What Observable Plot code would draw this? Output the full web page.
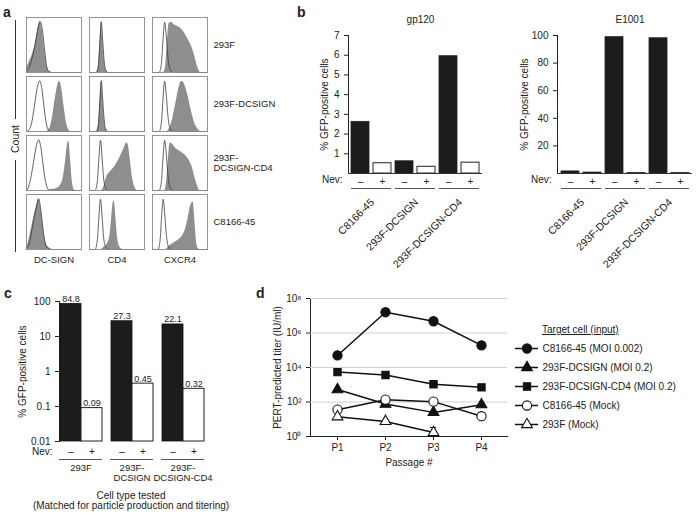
<!DOCTYPE html>
<html><head><meta charset="utf-8">
<script src="https://cdn.jsdelivr.net/npm/d3@7"></script>
<script src="https://cdn.jsdelivr.net/npm/@observablehq/plot@0.6"></script>
<style>
body{margin:0;background:#fff;font-family:"Liberation Sans",Arial,Helvetica,sans-serif;color:#222;}
#root{position:relative;width:700px;height:515px;overflow:hidden;background:#fff;}
.plab{position:absolute;font-weight:bold;font-size:14px;line-height:14px;}
.cap{position:absolute;font-size:10px;line-height:10px;text-align:center;}
</style></head><body><div id="root"></div>
<script>
// ================= DATA =================
// Panel a: flow histograms (x = relative fluorescence 0..1, y = relative count 0..1)
const cellLines = ["293F", "293F-DCSIGN", "293F-DCSIGN-CD4", "C8166-45"];
const cellLineLabels = ["293F", "293F-DCSIGN", "293F-\nDCSIGN-CD4", "C8166-45"];
const stainMarkers = ["DC-SIGN", "CD4", "CXCR4"];

const hist293F = [
  {marker: "DC-SIGN",
   filled: [[0,0.08],[0.05,0.2],[0.1,0.32],[0.15,0.5],[0.2,0.78],[0.25,0.97],[0.29,0.78],[0.33,0.42],[0.37,0.13],[0.41,0.03],[0.46,0],[1,0]],
   open:   [[0,0.02],[0.06,0.12],[0.12,0.35],[0.17,0.6],[0.21,0.85],[0.25,0.96],[0.29,0.8],[0.33,0.42],[0.37,0.1],[0.42,0.01],[0.47,0],[1,0]]},
  {marker: "CD4",
   filled: [[0,0],[0.12,0],[0.16,0.12],[0.19,0.55],[0.215,0.95],[0.24,0.65],[0.27,0.22],[0.3,0.05],[0.34,0],[1,0]],
   open:   [[0,0],[0.13,0],[0.16,0.1],[0.19,0.6],[0.215,0.96],[0.24,0.6],[0.27,0.18],[0.3,0.03],[0.34,0],[1,0]]},
  {marker: "CXCR4",
   filled: [[0,0],[0.2,0],[0.24,0.12],[0.27,0.55],[0.3,0.92],[0.34,0.95],[0.4,0.9],[0.48,0.86],[0.56,0.78],[0.64,0.64],[0.7,0.52],[0.76,0.34],[0.81,0.14],[0.85,0.03],[0.88,0],[1,0]],
   open:   [[0,0],[0.12,0],[0.16,0.15],[0.19,0.6],[0.22,0.95],[0.25,0.7],[0.28,0.3],[0.31,0.08],[0.35,0.01],[0.4,0],[1,0]]}
];
const hist293FDCSIGN = [
  {marker: "DC-SIGN",
   filled: [[0,0],[0.36,0],[0.42,0.05],[0.47,0.25],[0.52,0.6],[0.57,0.88],[0.6,0.95],[0.64,0.82],[0.68,0.5],[0.72,0.2],[0.76,0.05],[0.8,0],[1,0]],
   open:   [[0,0],[0.04,0.02],[0.09,0.15],[0.14,0.45],[0.19,0.8],[0.24,0.96],[0.28,0.8],[0.32,0.45],[0.36,0.15],[0.4,0.03],[0.45,0],[1,0]]},
  {marker: "CD4",
   filled: [[0,0],[0.12,0],[0.16,0.12],[0.19,0.55],[0.215,0.95],[0.24,0.65],[0.27,0.22],[0.3,0.05],[0.34,0],[1,0]],
   open:   [[0,0],[0.13,0],[0.16,0.1],[0.19,0.6],[0.215,0.96],[0.24,0.6],[0.27,0.18],[0.3,0.03],[0.34,0],[1,0]]},
  {marker: "CXCR4",
   filled: [[0,0],[0.26,0],[0.32,0.08],[0.38,0.3],[0.44,0.62],[0.49,0.86],[0.53,0.95],[0.58,0.9],[0.64,0.7],[0.7,0.42],[0.76,0.18],[0.82,0.05],[0.88,0],[1,0]],
   open:   [[0,0],[0.12,0],[0.16,0.15],[0.19,0.6],[0.22,0.95],[0.25,0.7],[0.28,0.3],[0.31,0.08],[0.35,0.01],[0.4,0],[1,0]]}
];
const hist293FDCSIGNCD4 = [
  {marker: "DC-SIGN",
   filled: [[0,0],[0.36,0],[0.45,0.02],[0.55,0.04],[0.62,0.1],[0.67,0.25],[0.71,0.55],[0.75,0.9],[0.77,0.93],[0.8,0.6],[0.83,0.2],[0.86,0.03],[0.89,0],[1,0]],
   open:   [[0,0],[0.03,0.05],[0.08,0.25],[0.13,0.55],[0.18,0.85],[0.22,0.96],[0.26,0.82],[0.3,0.5],[0.34,0.2],[0.38,0.05],[0.42,0],[1,0]]},
  {marker: "CD4",
   filled: [[0,0],[0.22,0],[0.27,0.1],[0.31,0.25],[0.36,0.33],[0.42,0.4],[0.5,0.52],[0.57,0.66],[0.63,0.8],[0.67,0.9],[0.7,0.88],[0.74,0.6],[0.78,0.25],[0.83,0.05],[0.87,0],[1,0]],
   open:   [[0,0],[0.1,0],[0.14,0.15],[0.17,0.6],[0.2,0.95],[0.23,0.6],[0.26,0.2],[0.3,0.04],[0.35,0],[1,0]]},
  {marker: "CXCR4",
   filled: [[0,0],[0.22,0],[0.26,0.2],[0.29,0.6],[0.32,0.9],[0.36,0.88],[0.42,0.8],[0.5,0.74],[0.58,0.68],[0.66,0.58],[0.72,0.45],[0.77,0.25],[0.82,0.08],[0.86,0],[1,0]],
   open:   [[0,0],[0.12,0],[0.16,0.15],[0.19,0.6],[0.22,0.95],[0.25,0.7],[0.28,0.3],[0.31,0.08],[0.35,0.01],[0.4,0],[1,0]]}
];
const histC8166 = [
  {marker: "DC-SIGN",
   filled: [[0,0.03],[0.04,0.15],[0.09,0.4],[0.14,0.65],[0.18,0.82],[0.22,0.95],[0.26,0.78],[0.3,0.45],[0.34,0.18],[0.39,0.05],[0.45,0.01],[0.5,0],[1,0]],
   open:   [[0,0.01],[0.05,0.12],[0.1,0.38],[0.15,0.65],[0.19,0.85],[0.22,0.96],[0.26,0.75],[0.3,0.4],[0.34,0.12],[0.39,0.02],[0.44,0],[1,0]]},
  {marker: "CD4",
   filled: [[0,0],[0.2,0],[0.26,0.04],[0.32,0.1],[0.37,0.25],[0.4,0.55],[0.43,0.88],[0.45,0.92],[0.48,0.6],[0.51,0.22],[0.55,0.05],[0.6,0],[1,0]],
   open:   [[0,0],[0.1,0],[0.14,0.15],[0.17,0.6],[0.2,0.95],[0.23,0.6],[0.26,0.2],[0.3,0.04],[0.35,0],[1,0]]},
  {marker: "CXCR4",
   filled: [[0,0],[0.24,0],[0.3,0.06],[0.38,0.12],[0.46,0.17],[0.54,0.25],[0.6,0.38],[0.65,0.6],[0.69,0.82],[0.72,0.88],[0.74,0.9],[0.77,0.55],[0.8,0.15],[0.83,0.02],[0.86,0],[1,0]],
   open:   [[0,0],[0.1,0],[0.14,0.2],[0.17,0.7],[0.195,0.95],[0.22,0.7],[0.25,0.3],[0.28,0.08],[0.32,0.01],[0.36,0],[1,0]]}
];

// Panel b
const bGroups = ["C8166-45", "293F-DCSIGN", "293F-DCSIGN-CD4"];
const nevLabels = ["–", "+"];
const gp120Values = [2.62, 0.52, 0.62, 0.34, 5.95, 0.55];
const e1001Values = [1.5, 0.6, 98.8, 0.3, 98.0, 0.3];
const gp120Ticks = [1, 2, 3, 4, 5, 6, 7];
const e1001Ticks = [20, 40, 60, 80, 100];

// Panel c
const cGroups = ["293F", "293F-DCSIGN", "293F-DCSIGN-CD4"];
const cGroupLabels = ["293F", "293F-\nDCSIGN", "293F-\nDCSIGN-CD4"];
const cValues = [84.8, 0.09, 27.3, 0.45, 22.1, 0.32];
const cValueLabels = ["84.8", "0.09", "27.3", "0.45", "22.1", "0.32"];
const cTicks = [0.01, 0.1, 1, 10, 100];
const cBase = 0.01;

// Panel d
const passages = ["P1", "P2", "P3", "P4"];
const dNames = ["C8166-45 (MOI 0.002)", "293F-DCSIGN (MOI 0.2)", "293F-DCSIGN-CD4 (MOI 0.2)", "C8166-45 (Mock)", "293F (Mock)"];
const dSymbols = ["circle", "triangle", "square", "circle", "triangle"];
const dFilled = [true, true, true, false, false];
const dC8166Moi = [5.0e4, 1.6e7, 4.8e6, 1.9e5];
const dDCSIGNMoi = [525, 76, 25, 70];
const dDCSIGNCD4Moi = [5400, 3700, 1070, 710];
const dC8166Mock = [36, 137, 105, 15];
const d293FMock = [14, 7.5, 1.7, null];
const d293FMockErrHigh = [null, null, 3.3, null];
const dTicks = [1, 1e2, 1e4, 1e6, 1e8];
const dTickLabels = ["10⁰", "10²", "10⁴", "10⁶", "10⁸"];
const dGrid = [1e2, 1e4, 1e6, 1e8];

// ================= DRAW =================
const FONT = "'Liberation Sans', Arial, Helvetica, sans-serif";
const root = document.getElementById("root");
function place(node, left, top) {
  node.style.position = "absolute";
  node.style.left = left + "px";
  node.style.top = top + "px";
  root.appendChild(node);
  return node;
}
function div(cls, html, left, top, extra) {
  const d = document.createElement("div");
  d.className = cls; d.innerHTML = html;
  d.style.left = left + "px"; d.style.top = top + "px";
  if (extra) Object.assign(d.style, extra);
  root.appendChild(d);
}
const baseStyle = {fontFamily: FONT, fontSize: "10px", background: "none", overflow: "visible", color: "#222"};

// ---- Panel a ----
const histRows = [hist293F, hist293FDCSIGN, hist293FDCSIGNCD4, histC8166];
const histPts = [];
histRows.forEach((row, ri) => row.forEach(c => {
  for (const kind of ["filled", "open"]) c[kind].forEach(([x, y]) =>
    histPts.push({cell: cellLines[ri], marker: c.marker, kind, x, y, key: cellLines[ri] + c.marker}));
}));
const aPlot = Plot.plot({
  width: 260, height: 275, marginLeft: 25, marginRight: 53, marginTop: 17, marginBottom: 25,
  style: {...baseStyle, fontSize: "9.5px"},
  x: {domain: [0, 1], axis: null},
  y: {domain: [0, 1.04], axis: null},
  fx: {domain: stainMarkers, paddingInner: 0.13, paddingOuter: 0, axis: "bottom", label: null, tickSize: 0, tickPadding: 7},
  fy: {domain: cellLines, paddingInner: 0.065, paddingOuter: 0, axis: "right", label: null, tickSize: 0, tickPadding: 6,
       tickFormat: d => cellLineLabels[cellLines.indexOf(d)]},
  marks: [
    Plot.areaY(histPts.filter(d => d.kind === "filled"), {x: "x", y: "y", fx: "marker", fy: "cell", z: "key", fill: "#8e8e8e", curve: "monotone-x"}),
    Plot.lineY(histPts.filter(d => d.kind === "open"), {x: "x", y: "y", fx: "marker", fy: "cell", z: "key", stroke: "#3c3c3c", strokeWidth: 0.8, curve: "monotone-x"}),
    Plot.frame({stroke: "#8a8a8a", strokeWidth: 0.9})
  ]
});
place(aPlot, 0, 0);

// Count label (vertical rule with text)
const ns = "http://www.w3.org/2000/svg";
const cnt = document.createElementNS(ns, "svg");
cnt.setAttribute("width", 24); cnt.setAttribute("height", 260);
cnt.innerHTML = `<line x1="15.5" x2="15.5" y1="20" y2="119" stroke="#333" stroke-width="1"/>
<line x1="15.5" x2="15.5" y1="160" y2="252" stroke="#333" stroke-width="1"/>
<text transform="translate(19,139) rotate(-90)" text-anchor="middle" font-size="10.5" font-family="${FONT}" fill="#222">Count</text>`;
place(cnt, 0, 0);

// ---- Panel b ----
function barPanel(values, ticks, domainMax, title, labelOffset, width, marginLeft) {
  const keys = bGroups.flatMap(g => nevLabels.map(n => g + "|" + n));
  const data = keys.map((k, i) => ({key: k, nev: k.split("|")[1], v: values[i]}));
  return Plot.plot({
    width, height: 265, marginLeft, marginRight: 8, marginTop: 35, marginBottom: 92,
    style: baseStyle,
    x: {domain: keys, paddingInner: 0.2, paddingOuter: 0.08, tickSize: 0, tickPadding: 4, label: null,
        tickFormat: k => k.split("|")[1]},
    y: {domain: [0, domainMax], ticks, tickFormat: d => String(d), tickSize: 4, line: true, label: "% GFP-positive cells",
        labelAnchor: "center", labelOffset, labelArrow: "none"},
    marks: [
      Plot.barY(data.filter(d => d.nev === nevLabels[0]), {x: "key", y: "v", fill: "#1c1c1c", stroke: "#222", strokeWidth: 0.8}),
      Plot.barY(data.filter(d => d.nev === nevLabels[1]), {x: "key", y: "v", fill: "#fff", stroke: "#222", strokeWidth: 1}),
      Plot.ruleY([0], {stroke: "#333"}),
      Plot.ruleY(bGroups, {x1: g => g + "|" + nevLabels[0], x2: g => g + "|" + nevLabels[1], y: () => 0, dy: 15, stroke: "#555"}),
      Plot.text(bGroups, {x: g => g + "|" + nevLabels[0], y: () => 0, text: g => g, rotate: -45, textAnchor: "end",
                          lineAnchor: "middle", dx: 12, dy: 27, fontSize: 10.5}),
      Plot.text(["Nev:"], {frameAnchor: "bottom-left", text: d => d, dx: -6, dy: 9, textAnchor: "end"}),
      Plot.text([title], {frameAnchor: "top", text: d => d, dy: -20, dx: 5, fontSize: 10})
    ]
  });
}
place(barPanel(gp120Values, gp120Ticks, 7, "gp120", 28, 200, 58), 290, 0);
place(barPanel(e1001Values, e1001Ticks, 100, "E1001", 37, 210, 67), 490, 0);

// ---- Panel c ----
const cData = cGroups.flatMap((g, gi) => nevLabels.map((n, ni) => ({group: g, nev: n, v: cValues[gi * 2 + ni], label: cValueLabels[gi * 2 + ni]})));
const cPlot = Plot.plot({
  width: 260, height: 230, marginLeft: 58, marginRight: 55, marginTop: 16, marginBottom: 74,
  style: baseStyle,
  fx: {domain: cGroups, paddingInner: 0.16, paddingOuter: 0, label: null},
  x: {domain: nevLabels, padding: 0, tickSize: 0, tickPadding: 6, label: null},
  y: {type: "log", domain: [0.01, 100], ticks: cTicks, tickFormat: d => String(d), tickSize: 4, line: true,
      label: "% GFP-positive cells", labelAnchor: "center", labelOffset: 41, labelArrow: "none"},
  marks: [
    Plot.axisFx({anchor: "bottom", tickSize: 0, tickPadding: 23, fontSize: 9.5, label: null,
                 tickFormat: g => cGroupLabels[cGroups.indexOf(g)]}),
    Plot.barY(cData.filter(d => d.nev === nevLabels[0]), {fx: "group", x: "nev", y1: () => cBase, y2: "v", fill: "#1c1c1c", stroke: "#111", strokeWidth: 0.8}),
    Plot.barY(cData.filter(d => d.nev === nevLabels[1]), {fx: "group", x: "nev", y1: () => cBase, y2: "v", fill: "#fff", stroke: "#222", strokeWidth: 1}),
    Plot.text(cData, {fx: "group", x: "nev", y: "v", text: "label", dy: -5, fontSize: 9}),
    Plot.ruleY(cGroups, {fx: d => d, y: () => cBase, dy: 18, stroke: "#555"}),
    Plot.text(cGroups.slice(0, 1), {fx: d => d, frameAnchor: "bottom-left", text: () => "Nev:", dx: -7, dy: 13, textAnchor: "end"})
  ]
});
place(cPlot, 0, 285);
div("cap", "Cell type tested<br>(Matched for particle production and titering)", 0, 491, {width: "262px"});

// ---- Panel d ----
const dSeriesVals = [dC8166Moi, dDCSIGNMoi, dDCSIGNCD4Moi, dC8166Mock, d293FMock];
const dPts = [];
dSeriesVals.forEach((vals, si) => vals.forEach((v, pi) => {
  if (v != null) dPts.push({series: dNames[si], si, p: passages[pi], v});
}));
const dErr = passages.map((p, i) => ({p, lo: d293FMock[i], hi: d293FMockErrHigh[i]})).filter(d => d.hi != null);
const dotMarks = dNames.map((n, si) => Plot.dot(dPts.filter(d => d.si === si), {
  x: "p", y: "v", symbol: () => dSymbols[si], r: dSymbols[si] === "circle" ? 4.6 : dSymbols[si] === "square" ? 4.1 : 4.0,
  fill: dFilled[si] ? "#111" : "#fff", stroke: "#111", strokeWidth: 1.1
}));
const dPlot = Plot.plot({
  width: 255, height: 190, marginLeft: 50, marginRight: 8, marginTop: 13, marginBottom: 39,
  style: {...baseStyle, fontSize: "10px"},
  x: {domain: passages, type: "point", padding: 0.54, tickSize: 4, tickPadding: 3, line: true,
      label: "Passage #", labelAnchor: "center", labelOffset: 29, labelArrow: "none"},
  y: {type: "log", domain: [1, 1e8], ticks: dTicks, tickFormat: d => dTickLabels[dTicks.indexOf(d)], tickSize: 4, line: true,
      label: "PERT-predicted titer (IU/ml)", labelAnchor: "center", labelOffset: 37, labelArrow: "none"},
  marks: [
    Plot.ruleY(dGrid, {stroke: "#cfcfcf", strokeWidth: 1}),
    Plot.ruleX(dErr, {x: "p", y1: "lo", y2: "hi", stroke: "#111", strokeWidth: 1}),
    Plot.ruleY(dErr, {x1: "p", x2: "p", y: "hi", insetLeft: -3, insetRight: -3, stroke: "#111", strokeWidth: 1}),
    Plot.line(dPts, {x: "p", y: "v", z: "series", stroke: "#111", strokeWidth: 1.5}),
    ...dotMarks
  ]
});
place(dPlot, 260, 285);

// legend
div("cap", "Target cell (input)", 542, 325, {textDecoration: "underline", textAlign: "left", fontSize: "10px"});
const legPlot = Plot.plot({
  width: 195, height: 120, marginLeft: 10, marginRight: 162, marginTop: 27, marginBottom: 15,
  style: {...baseStyle, fontSize: "10px"},
  x: {domain: [0, 1], axis: null},
  y: {domain: dNames, type: "point", padding: 0, axis: null},
  marks: [
    Plot.ruleY(dNames, {y: d => d, stroke: "#111", strokeWidth: 1.5}),
    ...dNames.map((n, si) => Plot.dot([n], {x: () => 0.5, y: d => d, symbol: () => dSymbols[si],
      r: dSymbols[si] === "circle" ? 4.6 : dSymbols[si] === "square" ? 4.1 : 4.0,
      fill: dFilled[si] ? "#111" : "#fff", stroke: "#111", strokeWidth: 1.1})),
    Plot.text(dNames, {x: () => 1, y: d => d, text: d => d, dx: 4, textAnchor: "start"})
  ]
});
place(legPlot, 505, 320);

// panel letters
div("plab", "a", 3, 5);
div("plab", "b", 297, 5);
div("plab", "c", 4, 286);
div("plab", "d", 256, 286);
</script></body></html>
